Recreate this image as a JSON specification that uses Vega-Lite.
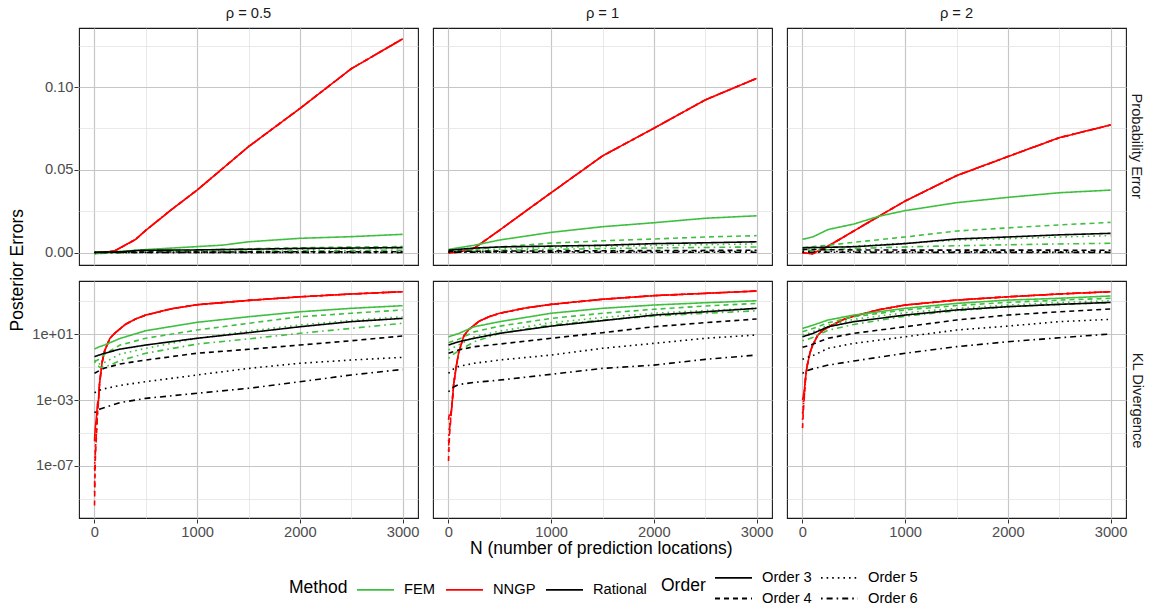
{
  "$schema": "https://vega.github.io/schema/vega-lite/v6.json",
  "background": "white",
  "padding": {"left": 9, "top": 6, "right": 6, "bottom": 2},
  "title": {"text": "Posterior Errors", "orient": "left", "anchor": "middle", "offset": 5, "dx": 36, "fontSize": 17.5, "fontWeight": "normal", "color": "black"},
  "spacing": 14,
  "resolve": {"scale": {"color": "shared", "strokeDash": "shared"}},
  "datasets": {
    "prob": [
      {"r":0.5,"m":"NNGP","o":3,"n":1,"v":0},{"r":0.5,"m":"NNGP","o":3,"n":100,"v":0.0002},{"r":0.5,"m":"NNGP","o":3,"n":200,"v":0.0012},{"r":0.5,"m":"NNGP","o":3,"n":400,"v":0.008},{"r":0.5,"m":"NNGP","o":3,"n":500,"v":0.0135},{"r":0.5,"m":"NNGP","o":3,"n":750,"v":0.026},{"r":0.5,"m":"NNGP","o":3,"n":1000,"v":0.0378},{"r":0.5,"m":"NNGP","o":3,"n":1500,"v":0.064},{"r":0.5,"m":"NNGP","o":3,"n":2000,"v":0.087},{"r":0.5,"m":"NNGP","o":3,"n":2500,"v":0.111},{"r":0.5,"m":"NNGP","o":3,"n":3000,"v":0.129},
      {"r":0.5,"m":"NNGP","o":4,"n":1,"v":0},{"r":0.5,"m":"NNGP","o":4,"n":100,"v":0.0002},{"r":0.5,"m":"NNGP","o":4,"n":200,"v":0.0012},{"r":0.5,"m":"NNGP","o":4,"n":400,"v":0.008},{"r":0.5,"m":"NNGP","o":4,"n":500,"v":0.0135},{"r":0.5,"m":"NNGP","o":4,"n":750,"v":0.026},{"r":0.5,"m":"NNGP","o":4,"n":1000,"v":0.0378},{"r":0.5,"m":"NNGP","o":4,"n":1500,"v":0.064},{"r":0.5,"m":"NNGP","o":4,"n":2000,"v":0.087},{"r":0.5,"m":"NNGP","o":4,"n":2500,"v":0.111},{"r":0.5,"m":"NNGP","o":4,"n":3000,"v":0.129},
      {"r":0.5,"m":"NNGP","o":5,"n":1,"v":0},{"r":0.5,"m":"NNGP","o":5,"n":100,"v":0.0002},{"r":0.5,"m":"NNGP","o":5,"n":200,"v":0.0012},{"r":0.5,"m":"NNGP","o":5,"n":400,"v":0.008},{"r":0.5,"m":"NNGP","o":5,"n":500,"v":0.0135},{"r":0.5,"m":"NNGP","o":5,"n":750,"v":0.026},{"r":0.5,"m":"NNGP","o":5,"n":1000,"v":0.0378},{"r":0.5,"m":"NNGP","o":5,"n":1500,"v":0.064},{"r":0.5,"m":"NNGP","o":5,"n":2000,"v":0.087},{"r":0.5,"m":"NNGP","o":5,"n":2500,"v":0.111},{"r":0.5,"m":"NNGP","o":5,"n":3000,"v":0.129},
      {"r":0.5,"m":"NNGP","o":6,"n":1,"v":0},{"r":0.5,"m":"NNGP","o":6,"n":100,"v":0.0002},{"r":0.5,"m":"NNGP","o":6,"n":200,"v":0.0012},{"r":0.5,"m":"NNGP","o":6,"n":400,"v":0.008},{"r":0.5,"m":"NNGP","o":6,"n":500,"v":0.0135},{"r":0.5,"m":"NNGP","o":6,"n":750,"v":0.026},{"r":0.5,"m":"NNGP","o":6,"n":1000,"v":0.0378},{"r":0.5,"m":"NNGP","o":6,"n":1500,"v":0.064},{"r":0.5,"m":"NNGP","o":6,"n":2000,"v":0.087},{"r":0.5,"m":"NNGP","o":6,"n":2500,"v":0.111},{"r":0.5,"m":"NNGP","o":6,"n":3000,"v":0.129},
      {"r":0.5,"m":"FEM","o":3,"n":1,"v":-0.0006},{"r":0.5,"m":"FEM","o":3,"n":250,"v":0.0008},{"r":0.5,"m":"FEM","o":3,"n":500,"v":0.0019},{"r":0.5,"m":"FEM","o":3,"n":1000,"v":0.0037},{"r":0.5,"m":"FEM","o":3,"n":1250,"v":0.0046},{"r":0.5,"m":"FEM","o":3,"n":1500,"v":0.0066},{"r":0.5,"m":"FEM","o":3,"n":2000,"v":0.0087},{"r":0.5,"m":"FEM","o":3,"n":2500,"v":0.0097},{"r":0.5,"m":"FEM","o":3,"n":3000,"v":0.0111},
      {"r":0.5,"m":"FEM","o":4,"n":1,"v":-0.0004},{"r":0.5,"m":"FEM","o":4,"n":250,"v":0.0004},{"r":0.5,"m":"FEM","o":4,"n":500,"v":0.001},{"r":0.5,"m":"FEM","o":4,"n":1000,"v":0.0017},{"r":0.5,"m":"FEM","o":4,"n":1500,"v":0.0024},{"r":0.5,"m":"FEM","o":4,"n":2000,"v":0.003},{"r":0.5,"m":"FEM","o":4,"n":2500,"v":0.0034},{"r":0.5,"m":"FEM","o":4,"n":3000,"v":0.0037},
      {"r":0.5,"m":"FEM","o":5,"n":1,"v":-0.0005},{"r":0.5,"m":"FEM","o":5,"n":250,"v":0.0002},{"r":0.5,"m":"FEM","o":5,"n":500,"v":0.0007},{"r":0.5,"m":"FEM","o":5,"n":1000,"v":0.0012},{"r":0.5,"m":"FEM","o":5,"n":1500,"v":0.0017},{"r":0.5,"m":"FEM","o":5,"n":2000,"v":0.0021},{"r":0.5,"m":"FEM","o":5,"n":2500,"v":0.0024},{"r":0.5,"m":"FEM","o":5,"n":3000,"v":0.0026},
      {"r":0.5,"m":"FEM","o":6,"n":1,"v":-0.0005},{"r":0.5,"m":"FEM","o":6,"n":250,"v":0},{"r":0.5,"m":"FEM","o":6,"n":500,"v":0.0003},{"r":0.5,"m":"FEM","o":6,"n":1000,"v":0.0006},{"r":0.5,"m":"FEM","o":6,"n":1500,"v":0.0009},{"r":0.5,"m":"FEM","o":6,"n":2000,"v":0.0011},{"r":0.5,"m":"FEM","o":6,"n":2500,"v":0.0013},{"r":0.5,"m":"FEM","o":6,"n":3000,"v":0.0015},
      {"r":0.5,"m":"Rational","o":3,"n":1,"v":0.0003},{"r":0.5,"m":"Rational","o":3,"n":250,"v":0.0005},{"r":0.5,"m":"Rational","o":3,"n":400,"v":0.0013},{"r":0.5,"m":"Rational","o":3,"n":500,"v":0.0015},{"r":0.5,"m":"Rational","o":3,"n":1000,"v":0.0017},{"r":0.5,"m":"Rational","o":3,"n":1500,"v":0.0021},{"r":0.5,"m":"Rational","o":3,"n":2000,"v":0.0026},{"r":0.5,"m":"Rational","o":3,"n":2500,"v":0.0028},{"r":0.5,"m":"Rational","o":3,"n":3000,"v":0.0031},
      {"r":0.5,"m":"Rational","o":4,"n":1,"v":0.0002},{"r":0.5,"m":"Rational","o":4,"n":500,"v":0.0004},{"r":0.5,"m":"Rational","o":4,"n":1000,"v":0.0004},{"r":0.5,"m":"Rational","o":4,"n":2000,"v":0.0006},{"r":0.5,"m":"Rational","o":4,"n":3000,"v":0.0006},
      {"r":0.5,"m":"Rational","o":5,"n":1,"v":0.0001},{"r":0.5,"m":"Rational","o":5,"n":1000,"v":0.0002},{"r":0.5,"m":"Rational","o":5,"n":2000,"v":0.0002},{"r":0.5,"m":"Rational","o":5,"n":3000,"v":0.0002},
      {"r":0.5,"m":"Rational","o":6,"n":1,"v":0.0001},{"r":0.5,"m":"Rational","o":6,"n":1000,"v":0.0001},{"r":0.5,"m":"Rational","o":6,"n":2000,"v":0.0001},{"r":0.5,"m":"Rational","o":6,"n":3000,"v":0.0001},

      {"r":1,"m":"NNGP","o":3,"n":1,"v":0},{"r":1,"m":"NNGP","o":3,"n":100,"v":0.0003},{"r":1,"m":"NNGP","o":3,"n":250,"v":0.0027},{"r":1,"m":"NNGP","o":3,"n":500,"v":0.0137},{"r":1,"m":"NNGP","o":3,"n":750,"v":0.025},{"r":1,"m":"NNGP","o":3,"n":1000,"v":0.0362},{"r":1,"m":"NNGP","o":3,"n":1500,"v":0.0584},{"r":1,"m":"NNGP","o":3,"n":2000,"v":0.0751},{"r":1,"m":"NNGP","o":3,"n":2500,"v":0.0922},{"r":1,"m":"NNGP","o":3,"n":3000,"v":0.1052},
      {"r":1,"m":"NNGP","o":4,"n":1,"v":0},{"r":1,"m":"NNGP","o":4,"n":100,"v":0.0003},{"r":1,"m":"NNGP","o":4,"n":250,"v":0.0027},{"r":1,"m":"NNGP","o":4,"n":500,"v":0.0137},{"r":1,"m":"NNGP","o":4,"n":750,"v":0.025},{"r":1,"m":"NNGP","o":4,"n":1000,"v":0.0362},{"r":1,"m":"NNGP","o":4,"n":1500,"v":0.0584},{"r":1,"m":"NNGP","o":4,"n":2000,"v":0.0751},{"r":1,"m":"NNGP","o":4,"n":2500,"v":0.0922},{"r":1,"m":"NNGP","o":4,"n":3000,"v":0.1052},
      {"r":1,"m":"NNGP","o":5,"n":1,"v":0},{"r":1,"m":"NNGP","o":5,"n":100,"v":0.0003},{"r":1,"m":"NNGP","o":5,"n":250,"v":0.0027},{"r":1,"m":"NNGP","o":5,"n":500,"v":0.0137},{"r":1,"m":"NNGP","o":5,"n":750,"v":0.025},{"r":1,"m":"NNGP","o":5,"n":1000,"v":0.0362},{"r":1,"m":"NNGP","o":5,"n":1500,"v":0.0584},{"r":1,"m":"NNGP","o":5,"n":2000,"v":0.0751},{"r":1,"m":"NNGP","o":5,"n":2500,"v":0.0922},{"r":1,"m":"NNGP","o":5,"n":3000,"v":0.1052},
      {"r":1,"m":"NNGP","o":6,"n":1,"v":0},{"r":1,"m":"NNGP","o":6,"n":100,"v":0.0003},{"r":1,"m":"NNGP","o":6,"n":250,"v":0.0027},{"r":1,"m":"NNGP","o":6,"n":500,"v":0.0137},{"r":1,"m":"NNGP","o":6,"n":750,"v":0.025},{"r":1,"m":"NNGP","o":6,"n":1000,"v":0.0362},{"r":1,"m":"NNGP","o":6,"n":1500,"v":0.0584},{"r":1,"m":"NNGP","o":6,"n":2000,"v":0.0751},{"r":1,"m":"NNGP","o":6,"n":2500,"v":0.0922},{"r":1,"m":"NNGP","o":6,"n":3000,"v":0.1052},
      {"r":1,"m":"FEM","o":3,"n":1,"v":0.002},{"r":1,"m":"FEM","o":3,"n":250,"v":0.0045},{"r":1,"m":"FEM","o":3,"n":500,"v":0.0077},{"r":1,"m":"FEM","o":3,"n":1000,"v":0.0123},{"r":1,"m":"FEM","o":3,"n":1500,"v":0.0157},{"r":1,"m":"FEM","o":3,"n":2000,"v":0.0181},{"r":1,"m":"FEM","o":3,"n":2500,"v":0.0208},{"r":1,"m":"FEM","o":3,"n":3000,"v":0.0223},
      {"r":1,"m":"FEM","o":4,"n":1,"v":0.0008},{"r":1,"m":"FEM","o":4,"n":250,"v":0.002},{"r":1,"m":"FEM","o":4,"n":500,"v":0.0035},{"r":1,"m":"FEM","o":4,"n":1000,"v":0.0058},{"r":1,"m":"FEM","o":4,"n":1500,"v":0.0072},{"r":1,"m":"FEM","o":4,"n":2000,"v":0.0083},{"r":1,"m":"FEM","o":4,"n":2500,"v":0.0095},{"r":1,"m":"FEM","o":4,"n":3000,"v":0.0103},
      {"r":1,"m":"FEM","o":5,"n":1,"v":0.0005},{"r":1,"m":"FEM","o":5,"n":250,"v":0.0012},{"r":1,"m":"FEM","o":5,"n":500,"v":0.0022},{"r":1,"m":"FEM","o":5,"n":1000,"v":0.0031},{"r":1,"m":"FEM","o":5,"n":1500,"v":0.0038},{"r":1,"m":"FEM","o":5,"n":2000,"v":0.0044},{"r":1,"m":"FEM","o":5,"n":2500,"v":0.0049},{"r":1,"m":"FEM","o":5,"n":3000,"v":0.0053},
      {"r":1,"m":"FEM","o":6,"n":1,"v":0.0003},{"r":1,"m":"FEM","o":6,"n":250,"v":0.0008},{"r":1,"m":"FEM","o":6,"n":500,"v":0.0014},{"r":1,"m":"FEM","o":6,"n":1000,"v":0.002},{"r":1,"m":"FEM","o":6,"n":1500,"v":0.0025},{"r":1,"m":"FEM","o":6,"n":2000,"v":0.0029},{"r":1,"m":"FEM","o":6,"n":2500,"v":0.0032},{"r":1,"m":"FEM","o":6,"n":3000,"v":0.0035},
      {"r":1,"m":"Rational","o":3,"n":1,"v":0.0015},{"r":1,"m":"Rational","o":3,"n":250,"v":0.0028},{"r":1,"m":"Rational","o":3,"n":500,"v":0.0035},{"r":1,"m":"Rational","o":3,"n":1000,"v":0.004},{"r":1,"m":"Rational","o":3,"n":1500,"v":0.0045},{"r":1,"m":"Rational","o":3,"n":2000,"v":0.0055},{"r":1,"m":"Rational","o":3,"n":2500,"v":0.006},{"r":1,"m":"Rational","o":3,"n":3000,"v":0.0066},
      {"r":1,"m":"Rational","o":4,"n":1,"v":0.0008},{"r":1,"m":"Rational","o":4,"n":500,"v":0.001},{"r":1,"m":"Rational","o":4,"n":1000,"v":0.0011},{"r":1,"m":"Rational","o":4,"n":2000,"v":0.0013},{"r":1,"m":"Rational","o":4,"n":3000,"v":0.0015},
      {"r":1,"m":"Rational","o":5,"n":1,"v":0.0005},{"r":1,"m":"Rational","o":5,"n":1000,"v":0.0006},{"r":1,"m":"Rational","o":5,"n":2000,"v":0.0007},{"r":1,"m":"Rational","o":5,"n":3000,"v":0.0008},
      {"r":1,"m":"Rational","o":6,"n":1,"v":0.0003},{"r":1,"m":"Rational","o":6,"n":1000,"v":0.0003},{"r":1,"m":"Rational","o":6,"n":2000,"v":0.0003},{"r":1,"m":"Rational","o":6,"n":3000,"v":0.0003},

      {"r":2,"m":"NNGP","o":3,"n":1,"v":0},{"r":2,"m":"NNGP","o":3,"n":100,"v":-0.0006},{"r":2,"m":"NNGP","o":3,"n":250,"v":0.004},{"r":2,"m":"NNGP","o":3,"n":500,"v":0.0131},{"r":2,"m":"NNGP","o":3,"n":750,"v":0.0222},{"r":2,"m":"NNGP","o":3,"n":1000,"v":0.0312},{"r":2,"m":"NNGP","o":3,"n":1500,"v":0.0465},{"r":2,"m":"NNGP","o":3,"n":2000,"v":0.058},{"r":2,"m":"NNGP","o":3,"n":2500,"v":0.0694},{"r":2,"m":"NNGP","o":3,"n":3000,"v":0.0771},
      {"r":2,"m":"NNGP","o":4,"n":1,"v":0},{"r":2,"m":"NNGP","o":4,"n":100,"v":-0.0006},{"r":2,"m":"NNGP","o":4,"n":250,"v":0.004},{"r":2,"m":"NNGP","o":4,"n":500,"v":0.0131},{"r":2,"m":"NNGP","o":4,"n":750,"v":0.0222},{"r":2,"m":"NNGP","o":4,"n":1000,"v":0.0312},{"r":2,"m":"NNGP","o":4,"n":1500,"v":0.0465},{"r":2,"m":"NNGP","o":4,"n":2000,"v":0.058},{"r":2,"m":"NNGP","o":4,"n":2500,"v":0.0694},{"r":2,"m":"NNGP","o":4,"n":3000,"v":0.0771},
      {"r":2,"m":"NNGP","o":5,"n":1,"v":0},{"r":2,"m":"NNGP","o":5,"n":100,"v":-0.0006},{"r":2,"m":"NNGP","o":5,"n":250,"v":0.004},{"r":2,"m":"NNGP","o":5,"n":500,"v":0.0131},{"r":2,"m":"NNGP","o":5,"n":750,"v":0.0222},{"r":2,"m":"NNGP","o":5,"n":1000,"v":0.0312},{"r":2,"m":"NNGP","o":5,"n":1500,"v":0.0465},{"r":2,"m":"NNGP","o":5,"n":2000,"v":0.058},{"r":2,"m":"NNGP","o":5,"n":2500,"v":0.0694},{"r":2,"m":"NNGP","o":5,"n":3000,"v":0.0771},
      {"r":2,"m":"NNGP","o":6,"n":1,"v":0},{"r":2,"m":"NNGP","o":6,"n":100,"v":-0.0006},{"r":2,"m":"NNGP","o":6,"n":250,"v":0.004},{"r":2,"m":"NNGP","o":6,"n":500,"v":0.0131},{"r":2,"m":"NNGP","o":6,"n":750,"v":0.0222},{"r":2,"m":"NNGP","o":6,"n":1000,"v":0.0312},{"r":2,"m":"NNGP","o":6,"n":1500,"v":0.0465},{"r":2,"m":"NNGP","o":6,"n":2000,"v":0.058},{"r":2,"m":"NNGP","o":6,"n":2500,"v":0.0694},{"r":2,"m":"NNGP","o":6,"n":3000,"v":0.0771},
      {"r":2,"m":"FEM","o":3,"n":1,"v":0.0081},{"r":2,"m":"FEM","o":3,"n":100,"v":0.0095},{"r":2,"m":"FEM","o":3,"n":250,"v":0.014},{"r":2,"m":"FEM","o":3,"n":500,"v":0.0173},{"r":2,"m":"FEM","o":3,"n":750,"v":0.0221},{"r":2,"m":"FEM","o":3,"n":1000,"v":0.0254},{"r":2,"m":"FEM","o":3,"n":1500,"v":0.0302},{"r":2,"m":"FEM","o":3,"n":2000,"v":0.0334},{"r":2,"m":"FEM","o":3,"n":2500,"v":0.0362},{"r":2,"m":"FEM","o":3,"n":3000,"v":0.0378},
      {"r":2,"m":"FEM","o":4,"n":1,"v":0.0032},{"r":2,"m":"FEM","o":4,"n":250,"v":0.0045},{"r":2,"m":"FEM","o":4,"n":500,"v":0.0063},{"r":2,"m":"FEM","o":4,"n":1000,"v":0.0095},{"r":2,"m":"FEM","o":4,"n":1500,"v":0.0131},{"r":2,"m":"FEM","o":4,"n":2000,"v":0.015},{"r":2,"m":"FEM","o":4,"n":2500,"v":0.0168},{"r":2,"m":"FEM","o":4,"n":3000,"v":0.0183},
      {"r":2,"m":"FEM","o":5,"n":1,"v":0.002},{"r":2,"m":"FEM","o":5,"n":250,"v":0.0028},{"r":2,"m":"FEM","o":5,"n":500,"v":0.004},{"r":2,"m":"FEM","o":5,"n":1000,"v":0.0058},{"r":2,"m":"FEM","o":5,"n":1500,"v":0.0075},{"r":2,"m":"FEM","o":5,"n":2000,"v":0.0085},{"r":2,"m":"FEM","o":5,"n":2500,"v":0.0095},{"r":2,"m":"FEM","o":5,"n":3000,"v":0.0103},
      {"r":2,"m":"FEM","o":6,"n":1,"v":0.0012},{"r":2,"m":"FEM","o":6,"n":250,"v":0.0018},{"r":2,"m":"FEM","o":6,"n":500,"v":0.0025},{"r":2,"m":"FEM","o":6,"n":1000,"v":0.0035},{"r":2,"m":"FEM","o":6,"n":1500,"v":0.0042},{"r":2,"m":"FEM","o":6,"n":2000,"v":0.0048},{"r":2,"m":"FEM","o":6,"n":2500,"v":0.0053},{"r":2,"m":"FEM","o":6,"n":3000,"v":0.0057},
      {"r":2,"m":"Rational","o":3,"n":1,"v":0.003},{"r":2,"m":"Rational","o":3,"n":250,"v":0.0033},{"r":2,"m":"Rational","o":3,"n":500,"v":0.0036},{"r":2,"m":"Rational","o":3,"n":1000,"v":0.0055},{"r":2,"m":"Rational","o":3,"n":1500,"v":0.0083},{"r":2,"m":"Rational","o":3,"n":2000,"v":0.0095},{"r":2,"m":"Rational","o":3,"n":2500,"v":0.0108},{"r":2,"m":"Rational","o":3,"n":3000,"v":0.0117},
      {"r":2,"m":"Rational","o":4,"n":1,"v":0.002},{"r":2,"m":"Rational","o":4,"n":500,"v":0.0017},{"r":2,"m":"Rational","o":4,"n":1000,"v":0.0016},{"r":2,"m":"Rational","o":4,"n":2000,"v":0.0016},{"r":2,"m":"Rational","o":4,"n":3000,"v":0.0015},
      {"r":2,"m":"Rational","o":5,"n":1,"v":0.0008},{"r":2,"m":"Rational","o":5,"n":1000,"v":0.0006},{"r":2,"m":"Rational","o":5,"n":2000,"v":0.0005},{"r":2,"m":"Rational","o":5,"n":3000,"v":0.0005},
      {"r":2,"m":"Rational","o":6,"n":1,"v":0.0003},{"r":2,"m":"Rational","o":6,"n":1000,"v":0.0002},{"r":2,"m":"Rational","o":6,"n":2000,"v":0.0002},{"r":2,"m":"Rational","o":6,"n":3000,"v":0.0002}
    ],
    "kl": [
      {"r":0.5,"m":"NNGP","o":3,"n":1,"v":3.16e-6},{"r":0.5,"m":"NNGP","o":3,"n":5,"v":1e-5},{"r":0.5,"m":"NNGP","o":3,"n":10,"v":2.51e-5},{"r":0.5,"m":"NNGP","o":3,"n":20,"v":1e-4},{"r":0.5,"m":"NNGP","o":3,"n":30,"v":6.31e-4},{"r":0.5,"m":"NNGP","o":3,"n":40,"v":1e-3},{"r":0.5,"m":"NNGP","o":3,"n":50,"v":0.01},{"r":0.5,"m":"NNGP","o":3,"n":75,"v":0.2},{"r":0.5,"m":"NNGP","o":3,"n":100,"v":1},{"r":0.5,"m":"NNGP","o":3,"n":150,"v":5.62},{"r":0.5,"m":"NNGP","o":3,"n":200,"v":12},{"r":0.5,"m":"NNGP","o":3,"n":300,"v":39.8},{"r":0.5,"m":"NNGP","o":3,"n":400,"v":85},{"r":0.5,"m":"NNGP","o":3,"n":500,"v":148},{"r":0.5,"m":"NNGP","o":3,"n":750,"v":355},{"r":0.5,"m":"NNGP","o":3,"n":1000,"v":631},{"r":0.5,"m":"NNGP","o":3,"n":1500,"v":1150},{"r":0.5,"m":"NNGP","o":3,"n":2000,"v":1905},{"r":0.5,"m":"NNGP","o":3,"n":2500,"v":2818},{"r":0.5,"m":"NNGP","o":3,"n":3000,"v":3890},
      {"r":0.5,"m":"NNGP","o":4,"n":1,"v":3.98e-10},{"r":0.5,"m":"NNGP","o":4,"n":5,"v":1.58e-8},{"r":0.5,"m":"NNGP","o":4,"n":10,"v":3.98e-7},{"r":0.5,"m":"NNGP","o":4,"n":20,"v":6.31e-6},{"r":0.5,"m":"NNGP","o":4,"n":30,"v":1.58e-4},{"r":0.5,"m":"NNGP","o":4,"n":40,"v":1e-3},{"r":0.5,"m":"NNGP","o":4,"n":50,"v":0.01},{"r":0.5,"m":"NNGP","o":4,"n":75,"v":0.2},{"r":0.5,"m":"NNGP","o":4,"n":100,"v":1},{"r":0.5,"m":"NNGP","o":4,"n":150,"v":5.62},{"r":0.5,"m":"NNGP","o":4,"n":200,"v":12},{"r":0.5,"m":"NNGP","o":4,"n":300,"v":39.8},{"r":0.5,"m":"NNGP","o":4,"n":400,"v":85},{"r":0.5,"m":"NNGP","o":4,"n":500,"v":148},{"r":0.5,"m":"NNGP","o":4,"n":750,"v":355},{"r":0.5,"m":"NNGP","o":4,"n":1000,"v":631},{"r":0.5,"m":"NNGP","o":4,"n":1500,"v":1150},{"r":0.5,"m":"NNGP","o":4,"n":2000,"v":1905},{"r":0.5,"m":"NNGP","o":4,"n":2500,"v":2818},{"r":0.5,"m":"NNGP","o":4,"n":3000,"v":3890},
      {"r":0.5,"m":"NNGP","o":5,"n":1,"v":6.31e-8},{"r":0.5,"m":"NNGP","o":5,"n":5,"v":2.51e-7},{"r":0.5,"m":"NNGP","o":5,"n":10,"v":1.26e-6},{"r":0.5,"m":"NNGP","o":5,"n":20,"v":2.51e-5},{"r":0.5,"m":"NNGP","o":5,"n":30,"v":3.16e-4},{"r":0.5,"m":"NNGP","o":5,"n":40,"v":1e-3},{"r":0.5,"m":"NNGP","o":5,"n":50,"v":0.01},{"r":0.5,"m":"NNGP","o":5,"n":75,"v":0.2},{"r":0.5,"m":"NNGP","o":5,"n":100,"v":1},{"r":0.5,"m":"NNGP","o":5,"n":150,"v":5.62},{"r":0.5,"m":"NNGP","o":5,"n":200,"v":12},{"r":0.5,"m":"NNGP","o":5,"n":300,"v":39.8},{"r":0.5,"m":"NNGP","o":5,"n":400,"v":85},{"r":0.5,"m":"NNGP","o":5,"n":500,"v":148},{"r":0.5,"m":"NNGP","o":5,"n":750,"v":355},{"r":0.5,"m":"NNGP","o":5,"n":1000,"v":631},{"r":0.5,"m":"NNGP","o":5,"n":1500,"v":1150},{"r":0.5,"m":"NNGP","o":5,"n":2000,"v":1905},{"r":0.5,"m":"NNGP","o":5,"n":2500,"v":2818},{"r":0.5,"m":"NNGP","o":5,"n":3000,"v":3890},
      {"r":0.5,"m":"NNGP","o":6,"n":1,"v":2.51e-9},{"r":0.5,"m":"NNGP","o":6,"n":5,"v":1e-7},{"r":0.5,"m":"NNGP","o":6,"n":10,"v":1e-6},{"r":0.5,"m":"NNGP","o":6,"n":20,"v":1.26e-5},{"r":0.5,"m":"NNGP","o":6,"n":30,"v":1.26e-4},{"r":0.5,"m":"NNGP","o":6,"n":40,"v":1e-3},{"r":0.5,"m":"NNGP","o":6,"n":50,"v":0.01},{"r":0.5,"m":"NNGP","o":6,"n":75,"v":0.2},{"r":0.5,"m":"NNGP","o":6,"n":100,"v":1},{"r":0.5,"m":"NNGP","o":6,"n":150,"v":5.62},{"r":0.5,"m":"NNGP","o":6,"n":200,"v":12},{"r":0.5,"m":"NNGP","o":6,"n":300,"v":39.8},{"r":0.5,"m":"NNGP","o":6,"n":400,"v":85},{"r":0.5,"m":"NNGP","o":6,"n":500,"v":148},{"r":0.5,"m":"NNGP","o":6,"n":750,"v":355},{"r":0.5,"m":"NNGP","o":6,"n":1000,"v":631},{"r":0.5,"m":"NNGP","o":6,"n":1500,"v":1150},{"r":0.5,"m":"NNGP","o":6,"n":2000,"v":1905},{"r":0.5,"m":"NNGP","o":6,"n":2500,"v":2818},{"r":0.5,"m":"NNGP","o":6,"n":3000,"v":3890},
      {"r":0.5,"m":"FEM","o":3,"n":1,"v":1.29},{"r":0.5,"m":"FEM","o":3,"n":50,"v":1.78},{"r":0.5,"m":"FEM","o":3,"n":100,"v":2.24},{"r":0.5,"m":"FEM","o":3,"n":250,"v":5.62},{"r":0.5,"m":"FEM","o":3,"n":500,"v":16.6},{"r":0.5,"m":"FEM","o":3,"n":1000,"v":53.7},{"r":0.5,"m":"FEM","o":3,"n":1500,"v":117},{"r":0.5,"m":"FEM","o":3,"n":2000,"v":234},{"r":0.5,"m":"FEM","o":3,"n":2500,"v":380},{"r":0.5,"m":"FEM","o":3,"n":3000,"v":550},
      {"r":0.5,"m":"FEM","o":4,"n":1,"v":0.219},{"r":0.5,"m":"FEM","o":4,"n":50,"v":0.316},{"r":0.5,"m":"FEM","o":4,"n":100,"v":0.631},{"r":0.5,"m":"FEM","o":4,"n":250,"v":2.24},{"r":0.5,"m":"FEM","o":4,"n":500,"v":5.75},{"r":0.5,"m":"FEM","o":4,"n":1000,"v":18.2},{"r":0.5,"m":"FEM","o":4,"n":1500,"v":46.8},{"r":0.5,"m":"FEM","o":4,"n":2000,"v":117},{"r":0.5,"m":"FEM","o":4,"n":2500,"v":191},{"r":0.5,"m":"FEM","o":4,"n":3000,"v":302},
      {"r":0.5,"m":"FEM","o":5,"n":1,"v":0.275},{"r":0.5,"m":"FEM","o":5,"n":50,"v":0.158},{"r":0.5,"m":"FEM","o":5,"n":100,"v":0.2},{"r":0.5,"m":"FEM","o":5,"n":250,"v":0.631},{"r":0.5,"m":"FEM","o":5,"n":500,"v":1.41},{"r":0.5,"m":"FEM","o":5,"n":1000,"v":5.75},{"r":0.5,"m":"FEM","o":5,"n":1500,"v":15.8},{"r":0.5,"m":"FEM","o":5,"n":2000,"v":37.2},{"r":0.5,"m":"FEM","o":5,"n":2500,"v":70.8},{"r":0.5,"m":"FEM","o":5,"n":3000,"v":117},
      {"r":0.5,"m":"FEM","o":6,"n":1,"v":0.219},{"r":0.5,"m":"FEM","o":6,"n":50,"v":0.1},{"r":0.5,"m":"FEM","o":6,"n":100,"v":0.1},{"r":0.5,"m":"FEM","o":6,"n":250,"v":0.251},{"r":0.5,"m":"FEM","o":6,"n":500,"v":0.708},{"r":0.5,"m":"FEM","o":6,"n":1000,"v":2.57},{"r":0.5,"m":"FEM","o":6,"n":1500,"v":5.25},{"r":0.5,"m":"FEM","o":6,"n":2000,"v":11.5},{"r":0.5,"m":"FEM","o":6,"n":2500,"v":22.9},{"r":0.5,"m":"FEM","o":6,"n":3000,"v":46.8},
      {"r":0.5,"m":"Rational","o":3,"n":1,"v":0.437},{"r":0.5,"m":"Rational","o":3,"n":50,"v":0.562},{"r":0.5,"m":"Rational","o":3,"n":100,"v":0.708},{"r":0.5,"m":"Rational","o":3,"n":250,"v":1.26},{"r":0.5,"m":"Rational","o":3,"n":500,"v":2.24},{"r":0.5,"m":"Rational","o":3,"n":1000,"v":5.75},{"r":0.5,"m":"Rational","o":3,"n":1500,"v":12.6},{"r":0.5,"m":"Rational","o":3,"n":2000,"v":28.8},{"r":0.5,"m":"Rational","o":3,"n":2500,"v":58.9},{"r":0.5,"m":"Rational","o":3,"n":3000,"v":93.3},
      {"r":0.5,"m":"Rational","o":4,"n":1,"v":0.0427},{"r":0.5,"m":"Rational","o":4,"n":50,"v":0.063},{"r":0.5,"m":"Rational","o":4,"n":100,"v":0.089},{"r":0.5,"m":"Rational","o":4,"n":250,"v":0.158},{"r":0.5,"m":"Rational","o":4,"n":500,"v":0.275},{"r":0.5,"m":"Rational","o":4,"n":1000,"v":0.708},{"r":0.5,"m":"Rational","o":4,"n":1500,"v":1.23},{"r":0.5,"m":"Rational","o":4,"n":2000,"v":2.24},{"r":0.5,"m":"Rational","o":4,"n":2500,"v":4.07},{"r":0.5,"m":"Rational","o":4,"n":3000,"v":7.94},
      {"r":0.5,"m":"Rational","o":5,"n":1,"v":0.00282},{"r":0.5,"m":"Rational","o":5,"n":50,"v":0.00398},{"r":0.5,"m":"Rational","o":5,"n":100,"v":0.005},{"r":0.5,"m":"Rational","o":5,"n":250,"v":0.00794},{"r":0.5,"m":"Rational","o":5,"n":500,"v":0.0132},{"r":0.5,"m":"Rational","o":5,"n":1000,"v":0.0339},{"r":0.5,"m":"Rational","o":5,"n":1500,"v":0.0851},{"r":0.5,"m":"Rational","o":5,"n":2000,"v":0.174},{"r":0.5,"m":"Rational","o":5,"n":2500,"v":0.275},{"r":0.5,"m":"Rational","o":5,"n":3000,"v":0.398},
      {"r":0.5,"m":"Rational","o":6,"n":1,"v":0.000174},{"r":0.5,"m":"Rational","o":6,"n":50,"v":0.000282},{"r":0.5,"m":"Rational","o":6,"n":100,"v":0.000355},{"r":0.5,"m":"Rational","o":6,"n":250,"v":0.000708},{"r":0.5,"m":"Rational","o":6,"n":500,"v":0.00129},{"r":0.5,"m":"Rational","o":6,"n":1000,"v":0.00263},{"r":0.5,"m":"Rational","o":6,"n":1500,"v":0.00525},{"r":0.5,"m":"Rational","o":6,"n":2000,"v":0.0132},{"r":0.5,"m":"Rational","o":6,"n":2500,"v":0.0339},{"r":0.5,"m":"Rational","o":6,"n":3000,"v":0.0741},

      {"r":1,"m":"NNGP","o":3,"n":1,"v":6.31e-5},{"r":1,"m":"NNGP","o":3,"n":5,"v":1e-4},{"r":1,"m":"NNGP","o":3,"n":10,"v":1.26e-4},{"r":1,"m":"NNGP","o":3,"n":20,"v":1.26e-4},{"r":1,"m":"NNGP","o":3,"n":30,"v":2.51e-4},{"r":1,"m":"NNGP","o":3,"n":40,"v":1.26e-3},{"r":1,"m":"NNGP","o":3,"n":50,"v":7.94e-3},{"r":1,"m":"NNGP","o":3,"n":75,"v":0.1},{"r":1,"m":"NNGP","o":3,"n":100,"v":0.794},{"r":1,"m":"NNGP","o":3,"n":150,"v":7.94},{"r":1,"m":"NNGP","o":3,"n":200,"v":20},{"r":1,"m":"NNGP","o":3,"n":300,"v":63.1},{"r":1,"m":"NNGP","o":3,"n":400,"v":120},{"r":1,"m":"NNGP","o":3,"n":500,"v":191},{"r":1,"m":"NNGP","o":3,"n":750,"v":398},{"r":1,"m":"NNGP","o":3,"n":1000,"v":661},{"r":1,"m":"NNGP","o":3,"n":1500,"v":1349},{"r":1,"m":"NNGP","o":3,"n":2000,"v":2239},{"r":1,"m":"NNGP","o":3,"n":2500,"v":3090},{"r":1,"m":"NNGP","o":3,"n":3000,"v":4266},
      {"r":1,"m":"NNGP","o":4,"n":1,"v":2e-7},{"r":1,"m":"NNGP","o":4,"n":5,"v":1e-6},{"r":1,"m":"NNGP","o":4,"n":10,"v":6.31e-6},{"r":1,"m":"NNGP","o":4,"n":20,"v":3.98e-5},{"r":1,"m":"NNGP","o":4,"n":30,"v":2.51e-4},{"r":1,"m":"NNGP","o":4,"n":40,"v":1.26e-3},{"r":1,"m":"NNGP","o":4,"n":50,"v":7.94e-3},{"r":1,"m":"NNGP","o":4,"n":75,"v":0.1},{"r":1,"m":"NNGP","o":4,"n":100,"v":0.794},{"r":1,"m":"NNGP","o":4,"n":150,"v":7.94},{"r":1,"m":"NNGP","o":4,"n":200,"v":20},{"r":1,"m":"NNGP","o":4,"n":300,"v":63.1},{"r":1,"m":"NNGP","o":4,"n":400,"v":120},{"r":1,"m":"NNGP","o":4,"n":500,"v":191},{"r":1,"m":"NNGP","o":4,"n":750,"v":398},{"r":1,"m":"NNGP","o":4,"n":1000,"v":661},{"r":1,"m":"NNGP","o":4,"n":1500,"v":1349},{"r":1,"m":"NNGP","o":4,"n":2000,"v":2239},{"r":1,"m":"NNGP","o":4,"n":2500,"v":3090},{"r":1,"m":"NNGP","o":4,"n":3000,"v":4266},
      {"r":1,"m":"NNGP","o":5,"n":1,"v":3.16e-6},{"r":1,"m":"NNGP","o":5,"n":5,"v":7.94e-6},{"r":1,"m":"NNGP","o":5,"n":10,"v":2.51e-5},{"r":1,"m":"NNGP","o":5,"n":20,"v":7.94e-5},{"r":1,"m":"NNGP","o":5,"n":30,"v":2.51e-4},{"r":1,"m":"NNGP","o":5,"n":40,"v":1.26e-3},{"r":1,"m":"NNGP","o":5,"n":50,"v":7.94e-3},{"r":1,"m":"NNGP","o":5,"n":75,"v":0.1},{"r":1,"m":"NNGP","o":5,"n":100,"v":0.794},{"r":1,"m":"NNGP","o":5,"n":150,"v":7.94},{"r":1,"m":"NNGP","o":5,"n":200,"v":20},{"r":1,"m":"NNGP","o":5,"n":300,"v":63.1},{"r":1,"m":"NNGP","o":5,"n":400,"v":120},{"r":1,"m":"NNGP","o":5,"n":500,"v":191},{"r":1,"m":"NNGP","o":5,"n":750,"v":398},{"r":1,"m":"NNGP","o":5,"n":1000,"v":661},{"r":1,"m":"NNGP","o":5,"n":1500,"v":1349},{"r":1,"m":"NNGP","o":5,"n":2000,"v":2239},{"r":1,"m":"NNGP","o":5,"n":2500,"v":3090},{"r":1,"m":"NNGP","o":5,"n":3000,"v":4266},
      {"r":1,"m":"NNGP","o":6,"n":1,"v":7.94e-7},{"r":1,"m":"NNGP","o":6,"n":5,"v":3.98e-6},{"r":1,"m":"NNGP","o":6,"n":10,"v":1.58e-5},{"r":1,"m":"NNGP","o":6,"n":20,"v":5.01e-5},{"r":1,"m":"NNGP","o":6,"n":30,"v":2.51e-4},{"r":1,"m":"NNGP","o":6,"n":40,"v":1.26e-3},{"r":1,"m":"NNGP","o":6,"n":50,"v":7.94e-3},{"r":1,"m":"NNGP","o":6,"n":75,"v":0.1},{"r":1,"m":"NNGP","o":6,"n":100,"v":0.794},{"r":1,"m":"NNGP","o":6,"n":150,"v":7.94},{"r":1,"m":"NNGP","o":6,"n":200,"v":20},{"r":1,"m":"NNGP","o":6,"n":300,"v":63.1},{"r":1,"m":"NNGP","o":6,"n":400,"v":120},{"r":1,"m":"NNGP","o":6,"n":500,"v":191},{"r":1,"m":"NNGP","o":6,"n":750,"v":398},{"r":1,"m":"NNGP","o":6,"n":1000,"v":661},{"r":1,"m":"NNGP","o":6,"n":1500,"v":1349},{"r":1,"m":"NNGP","o":6,"n":2000,"v":2239},{"r":1,"m":"NNGP","o":6,"n":2500,"v":3090},{"r":1,"m":"NNGP","o":6,"n":3000,"v":4266},
      {"r":1,"m":"FEM","o":3,"n":1,"v":7.08},{"r":1,"m":"FEM","o":3,"n":50,"v":8.91},{"r":1,"m":"FEM","o":3,"n":100,"v":11.2},{"r":1,"m":"FEM","o":3,"n":250,"v":28.8},{"r":1,"m":"FEM","o":3,"n":500,"v":58.9},{"r":1,"m":"FEM","o":3,"n":1000,"v":191},{"r":1,"m":"FEM","o":3,"n":1500,"v":380},{"r":1,"m":"FEM","o":3,"n":2000,"v":603},{"r":1,"m":"FEM","o":3,"n":2500,"v":832},{"r":1,"m":"FEM","o":3,"n":3000,"v":1096},
      {"r":1,"m":"FEM","o":4,"n":1,"v":3.09},{"r":1,"m":"FEM","o":4,"n":50,"v":3.98},{"r":1,"m":"FEM","o":4,"n":100,"v":5.01},{"r":1,"m":"FEM","o":4,"n":250,"v":14.1},{"r":1,"m":"FEM","o":4,"n":500,"v":31.6},{"r":1,"m":"FEM","o":4,"n":1000,"v":93.3},{"r":1,"m":"FEM","o":4,"n":1500,"v":191},{"r":1,"m":"FEM","o":4,"n":2000,"v":331},{"r":1,"m":"FEM","o":4,"n":2500,"v":525},{"r":1,"m":"FEM","o":4,"n":3000,"v":759},
      {"r":1,"m":"FEM","o":5,"n":1,"v":1.12},{"r":1,"m":"FEM","o":5,"n":50,"v":1.58},{"r":1,"m":"FEM","o":5,"n":100,"v":2.24},{"r":1,"m":"FEM","o":5,"n":250,"v":7.08},{"r":1,"m":"FEM","o":5,"n":500,"v":15.8},{"r":1,"m":"FEM","o":5,"n":1000,"v":51.3},{"r":1,"m":"FEM","o":5,"n":1500,"v":105},{"r":1,"m":"FEM","o":5,"n":2000,"v":191},{"r":1,"m":"FEM","o":5,"n":2500,"v":282},{"r":1,"m":"FEM","o":5,"n":3000,"v":380},
      {"r":1,"m":"FEM","o":6,"n":1,"v":0.347},{"r":1,"m":"FEM","o":6,"n":50,"v":0.631},{"r":1,"m":"FEM","o":6,"n":100,"v":1},{"r":1,"m":"FEM","o":6,"n":250,"v":3.55},{"r":1,"m":"FEM","o":6,"n":500,"v":11.5},{"r":1,"m":"FEM","o":6,"n":1000,"v":37.2},{"r":1,"m":"FEM","o":6,"n":1500,"v":74.1},{"r":1,"m":"FEM","o":6,"n":2000,"v":129},{"r":1,"m":"FEM","o":6,"n":2500,"v":191},{"r":1,"m":"FEM","o":6,"n":3000,"v":269},
      {"r":1,"m":"Rational","o":3,"n":1,"v":2.24},{"r":1,"m":"Rational","o":3,"n":50,"v":2.82},{"r":1,"m":"Rational","o":3,"n":100,"v":3.55},{"r":1,"m":"Rational","o":3,"n":250,"v":5.75},{"r":1,"m":"Rational","o":3,"n":500,"v":11.5},{"r":1,"m":"Rational","o":3,"n":1000,"v":31.6},{"r":1,"m":"Rational","o":3,"n":1500,"v":67.6},{"r":1,"m":"Rational","o":3,"n":2000,"v":148},{"r":1,"m":"Rational","o":3,"n":2500,"v":234},{"r":1,"m":"Rational","o":3,"n":3000,"v":380},
      {"r":1,"m":"Rational","o":4,"n":1,"v":0.708},{"r":1,"m":"Rational","o":4,"n":50,"v":0.891},{"r":1,"m":"Rational","o":4,"n":100,"v":1.12},{"r":1,"m":"Rational","o":4,"n":250,"v":1.78},{"r":1,"m":"Rational","o":4,"n":500,"v":2.57},{"r":1,"m":"Rational","o":4,"n":1000,"v":5.75},{"r":1,"m":"Rational","o":4,"n":1500,"v":12.6},{"r":1,"m":"Rational","o":4,"n":2000,"v":28.8},{"r":1,"m":"Rational","o":4,"n":2500,"v":51.3},{"r":1,"m":"Rational","o":4,"n":3000,"v":85.1},
      {"r":1,"m":"Rational","o":5,"n":1,"v":0.0427},{"r":1,"m":"Rational","o":5,"n":50,"v":0.0794},{"r":1,"m":"Rational","o":5,"n":100,"v":0.112},{"r":1,"m":"Rational","o":5,"n":250,"v":0.174},{"r":1,"m":"Rational","o":5,"n":500,"v":0.275},{"r":1,"m":"Rational","o":5,"n":1000,"v":0.55},{"r":1,"m":"Rational","o":5,"n":1500,"v":1.41},{"r":1,"m":"Rational","o":5,"n":2000,"v":2.82},{"r":1,"m":"Rational","o":5,"n":2500,"v":5.75},{"r":1,"m":"Rational","o":5,"n":3000,"v":9.12},
      {"r":1,"m":"Rational","o":6,"n":1,"v":0.00324},{"r":1,"m":"Rational","o":6,"n":50,"v":0.00631},{"r":1,"m":"Rational","o":6,"n":100,"v":0.00891},{"r":1,"m":"Rational","o":6,"n":250,"v":0.012},{"r":1,"m":"Rational","o":6,"n":500,"v":0.0166},{"r":1,"m":"Rational","o":6,"n":1000,"v":0.0372},{"r":1,"m":"Rational","o":6,"n":1500,"v":0.0851},{"r":1,"m":"Rational","o":6,"n":2000,"v":0.135},{"r":1,"m":"Rational","o":6,"n":2500,"v":0.302},{"r":1,"m":"Rational","o":6,"n":3000,"v":0.55},

      {"r":2,"m":"NNGP","o":3,"n":1,"v":1e-3},{"r":2,"m":"NNGP","o":3,"n":5,"v":1.26e-3},{"r":2,"m":"NNGP","o":3,"n":10,"v":2e-3},{"r":2,"m":"NNGP","o":3,"n":20,"v":5.01e-3},{"r":2,"m":"NNGP","o":3,"n":30,"v":0.02},{"r":2,"m":"NNGP","o":3,"n":40,"v":0.0708},{"r":2,"m":"NNGP","o":3,"n":50,"v":0.158},{"r":2,"m":"NNGP","o":3,"n":75,"v":0.794},{"r":2,"m":"NNGP","o":3,"n":100,"v":2.24},{"r":2,"m":"NNGP","o":3,"n":150,"v":8.91},{"r":2,"m":"NNGP","o":3,"n":200,"v":17.8},{"r":2,"m":"NNGP","o":3,"n":300,"v":39.8},{"r":2,"m":"NNGP","o":3,"n":400,"v":79.4},{"r":2,"m":"NNGP","o":3,"n":500,"v":126},{"r":2,"m":"NNGP","o":3,"n":750,"v":316},{"r":2,"m":"NNGP","o":3,"n":1000,"v":603},{"r":2,"m":"NNGP","o":3,"n":1500,"v":1202},{"r":2,"m":"NNGP","o":3,"n":2000,"v":1905},{"r":2,"m":"NNGP","o":3,"n":2500,"v":2818},{"r":2,"m":"NNGP","o":3,"n":3000,"v":3890},
      {"r":2,"m":"NNGP","o":4,"n":1,"v":2e-5},{"r":2,"m":"NNGP","o":4,"n":5,"v":6.31e-5},{"r":2,"m":"NNGP","o":4,"n":10,"v":2.51e-4},{"r":2,"m":"NNGP","o":4,"n":20,"v":2e-3},{"r":2,"m":"NNGP","o":4,"n":30,"v":0.02},{"r":2,"m":"NNGP","o":4,"n":40,"v":0.0708},{"r":2,"m":"NNGP","o":4,"n":50,"v":0.158},{"r":2,"m":"NNGP","o":4,"n":75,"v":0.794},{"r":2,"m":"NNGP","o":4,"n":100,"v":2.24},{"r":2,"m":"NNGP","o":4,"n":150,"v":8.91},{"r":2,"m":"NNGP","o":4,"n":200,"v":17.8},{"r":2,"m":"NNGP","o":4,"n":300,"v":39.8},{"r":2,"m":"NNGP","o":4,"n":400,"v":79.4},{"r":2,"m":"NNGP","o":4,"n":500,"v":126},{"r":2,"m":"NNGP","o":4,"n":750,"v":316},{"r":2,"m":"NNGP","o":4,"n":1000,"v":603},{"r":2,"m":"NNGP","o":4,"n":1500,"v":1202},{"r":2,"m":"NNGP","o":4,"n":2000,"v":1905},{"r":2,"m":"NNGP","o":4,"n":2500,"v":2818},{"r":2,"m":"NNGP","o":4,"n":3000,"v":3890},
      {"r":2,"m":"NNGP","o":5,"n":1,"v":1.58e-4},{"r":2,"m":"NNGP","o":5,"n":5,"v":3.16e-4},{"r":2,"m":"NNGP","o":5,"n":10,"v":7.94e-4},{"r":2,"m":"NNGP","o":5,"n":20,"v":3.16e-3},{"r":2,"m":"NNGP","o":5,"n":30,"v":0.02},{"r":2,"m":"NNGP","o":5,"n":40,"v":0.0708},{"r":2,"m":"NNGP","o":5,"n":50,"v":0.158},{"r":2,"m":"NNGP","o":5,"n":75,"v":0.794},{"r":2,"m":"NNGP","o":5,"n":100,"v":2.24},{"r":2,"m":"NNGP","o":5,"n":150,"v":8.91},{"r":2,"m":"NNGP","o":5,"n":200,"v":17.8},{"r":2,"m":"NNGP","o":5,"n":300,"v":39.8},{"r":2,"m":"NNGP","o":5,"n":400,"v":79.4},{"r":2,"m":"NNGP","o":5,"n":500,"v":126},{"r":2,"m":"NNGP","o":5,"n":750,"v":316},{"r":2,"m":"NNGP","o":5,"n":1000,"v":603},{"r":2,"m":"NNGP","o":5,"n":1500,"v":1202},{"r":2,"m":"NNGP","o":5,"n":2000,"v":1905},{"r":2,"m":"NNGP","o":5,"n":2500,"v":2818},{"r":2,"m":"NNGP","o":5,"n":3000,"v":3890},
      {"r":2,"m":"NNGP","o":6,"n":1,"v":6.31e-5},{"r":2,"m":"NNGP","o":6,"n":5,"v":1.58e-4},{"r":2,"m":"NNGP","o":6,"n":10,"v":5.01e-4},{"r":2,"m":"NNGP","o":6,"n":20,"v":2.51e-3},{"r":2,"m":"NNGP","o":6,"n":30,"v":0.02},{"r":2,"m":"NNGP","o":6,"n":40,"v":0.0708},{"r":2,"m":"NNGP","o":6,"n":50,"v":0.158},{"r":2,"m":"NNGP","o":6,"n":75,"v":0.794},{"r":2,"m":"NNGP","o":6,"n":100,"v":2.24},{"r":2,"m":"NNGP","o":6,"n":150,"v":8.91},{"r":2,"m":"NNGP","o":6,"n":200,"v":17.8},{"r":2,"m":"NNGP","o":6,"n":300,"v":39.8},{"r":2,"m":"NNGP","o":6,"n":400,"v":79.4},{"r":2,"m":"NNGP","o":6,"n":500,"v":126},{"r":2,"m":"NNGP","o":6,"n":750,"v":316},{"r":2,"m":"NNGP","o":6,"n":1000,"v":603},{"r":2,"m":"NNGP","o":6,"n":1500,"v":1202},{"r":2,"m":"NNGP","o":6,"n":2000,"v":1905},{"r":2,"m":"NNGP","o":6,"n":2500,"v":2818},{"r":2,"m":"NNGP","o":6,"n":3000,"v":3890},
      {"r":2,"m":"FEM","o":3,"n":1,"v":22.9},{"r":2,"m":"FEM","o":3,"n":50,"v":28.2},{"r":2,"m":"FEM","o":3,"n":100,"v":35.5},{"r":2,"m":"FEM","o":3,"n":250,"v":74.1},{"r":2,"m":"FEM","o":3,"n":500,"v":148},{"r":2,"m":"FEM","o":3,"n":1000,"v":380},{"r":2,"m":"FEM","o":3,"n":1500,"v":759},{"r":2,"m":"FEM","o":3,"n":2000,"v":1202},{"r":2,"m":"FEM","o":3,"n":2500,"v":1549},{"r":2,"m":"FEM","o":3,"n":3000,"v":2138},
      {"r":2,"m":"FEM","o":4,"n":1,"v":14.5},{"r":2,"m":"FEM","o":4,"n":50,"v":17.8},{"r":2,"m":"FEM","o":4,"n":100,"v":22.4},{"r":2,"m":"FEM","o":4,"n":250,"v":50.1},{"r":2,"m":"FEM","o":4,"n":500,"v":117},{"r":2,"m":"FEM","o":4,"n":1000,"v":302},{"r":2,"m":"FEM","o":4,"n":1500,"v":562},{"r":2,"m":"FEM","o":4,"n":2000,"v":871},{"r":2,"m":"FEM","o":4,"n":2500,"v":1202},{"r":2,"m":"FEM","o":4,"n":3000,"v":1549},
      {"r":2,"m":"FEM","o":5,"n":1,"v":9.12},{"r":2,"m":"FEM","o":5,"n":50,"v":11.2},{"r":2,"m":"FEM","o":5,"n":100,"v":14.1},{"r":2,"m":"FEM","o":5,"n":250,"v":35.5},{"r":2,"m":"FEM","o":5,"n":500,"v":81.3},{"r":2,"m":"FEM","o":5,"n":1000,"v":204},{"r":2,"m":"FEM","o":5,"n":1500,"v":380},{"r":2,"m":"FEM","o":5,"n":2000,"v":603},{"r":2,"m":"FEM","o":5,"n":2500,"v":851},{"r":2,"m":"FEM","o":5,"n":3000,"v":1096},
      {"r":2,"m":"FEM","o":6,"n":1,"v":4.07},{"r":2,"m":"FEM","o":6,"n":50,"v":5.01},{"r":2,"m":"FEM","o":6,"n":100,"v":6.31},{"r":2,"m":"FEM","o":6,"n":250,"v":17.8},{"r":2,"m":"FEM","o":6,"n":500,"v":39.8},{"r":2,"m":"FEM","o":6,"n":1000,"v":126},{"r":2,"m":"FEM","o":6,"n":1500,"v":269},{"r":2,"m":"FEM","o":6,"n":2000,"v":479},{"r":2,"m":"FEM","o":6,"n":2500,"v":661},{"r":2,"m":"FEM","o":6,"n":3000,"v":832},
      {"r":2,"m":"Rational","o":3,"n":1,"v":7.08},{"r":2,"m":"Rational","o":3,"n":50,"v":8.91},{"r":2,"m":"Rational","o":3,"n":100,"v":11.2},{"r":2,"m":"Rational","o":3,"n":250,"v":28.8},{"r":2,"m":"Rational","o":3,"n":500,"v":58.9},{"r":2,"m":"Rational","o":3,"n":1000,"v":148},{"r":2,"m":"Rational","o":3,"n":1500,"v":302},{"r":2,"m":"Rational","o":3,"n":2000,"v":479},{"r":2,"m":"Rational","o":3,"n":2500,"v":661},{"r":2,"m":"Rational","o":3,"n":3000,"v":871},
      {"r":2,"m":"Rational","o":4,"n":1,"v":1.62},{"r":2,"m":"Rational","o":4,"n":50,"v":2},{"r":2,"m":"Rational","o":4,"n":100,"v":2.51},{"r":2,"m":"Rational","o":4,"n":250,"v":5.75},{"r":2,"m":"Rational","o":4,"n":500,"v":11.5},{"r":2,"m":"Rational","o":4,"n":1000,"v":28.8},{"r":2,"m":"Rational","o":4,"n":1500,"v":74.1},{"r":2,"m":"Rational","o":4,"n":2000,"v":148},{"r":2,"m":"Rational","o":4,"n":2500,"v":234},{"r":2,"m":"Rational","o":4,"n":3000,"v":347},
      {"r":2,"m":"Rational","o":5,"n":1,"v":0.302},{"r":2,"m":"Rational","o":5,"n":50,"v":0.398},{"r":2,"m":"Rational","o":5,"n":100,"v":0.501},{"r":2,"m":"Rational","o":5,"n":250,"v":1.41},{"r":2,"m":"Rational","o":5,"n":500,"v":2.82},{"r":2,"m":"Rational","o":5,"n":1000,"v":7.08},{"r":2,"m":"Rational","o":5,"n":1500,"v":18.2},{"r":2,"m":"Rational","o":5,"n":2000,"v":31.6},{"r":2,"m":"Rational","o":5,"n":2500,"v":58.9},{"r":2,"m":"Rational","o":5,"n":3000,"v":81.3},
      {"r":2,"m":"Rational","o":6,"n":1,"v":0.0427},{"r":2,"m":"Rational","o":6,"n":50,"v":0.0631},{"r":2,"m":"Rational","o":6,"n":100,"v":0.0794},{"r":2,"m":"Rational","o":6,"n":250,"v":0.135},{"r":2,"m":"Rational","o":6,"n":500,"v":0.24},{"r":2,"m":"Rational","o":6,"n":1000,"v":0.708},{"r":2,"m":"Rational","o":6,"n":1500,"v":1.78},{"r":2,"m":"Rational","o":6,"n":2000,"v":3.55},{"r":2,"m":"Rational","o":6,"n":2500,"v":6.17},{"r":2,"m":"Rational","o":6,"n":3000,"v":10.5}
    ]
  },
  "vconcat": [
    {
      "data": {"name": "prob"},
      "title": {"text": "Probability Error", "orient": "right", "anchor": "middle", "offset": 3, "dx": 10, "fontSize": 14.7, "fontWeight": "normal", "color": "#1a1a1a"},
      "facet": {
        "column": {"field": "r", "type": "ordinal", "header": {"title": null, "labelExpr": "'ρ = ' + datum.value", "labelFontSize": 14.7, "labelColor": "#1a1a1a", "labelPadding": 6}}
      },
      "spacing": 13,
      "spec": {
        "width": 339,
        "height": 237,
        "mark": {"type": "line", "strokeWidth": 1.6, "clip": true},
        "encoding": {
          "x": {
            "field": "n", "type": "quantitative",
            "scale": {"domain": [-150, 3150], "nice": false, "zero": false},
            "axis": {
              "title": null, "labels": false, "ticks": false,
              "values": [0, 500, 1000, 1500, 2000, 2500, 3000],
              "gridColor": {"condition": {"test": "datum.value % 1000 == 0", "value": "#c6c6c6"}, "value": "#e0e0e0"},
              "gridWidth": {"condition": {"test": "datum.value % 1000 == 0", "value": 1.2}, "value": 0.7}
            }
          },
          "y": {
            "field": "v", "type": "quantitative",
            "scale": {"domain": [-0.0074, 0.1356], "nice": false, "zero": false},
            "axis": {
              "title": null,
              "values": [0, 0.025, 0.05, 0.075, 0.1, 0.125],
              "format": ".2f",
              "labelExpr": "abs(datum.value * 20 - round(datum.value * 20)) < 0.001 ? datum.label : ''",
              "tickColor": {"condition": {"test": "abs(datum.value * 20 - round(datum.value * 20)) < 0.001", "value": "#333333"}, "value": "transparent"},
              "gridColor": {"condition": {"test": "abs(datum.value * 20 - round(datum.value * 20)) < 0.001", "value": "#c6c6c6"}, "value": "#e0e0e0"},
              "gridWidth": {"condition": {"test": "abs(datum.value * 20 - round(datum.value * 20)) < 0.001", "value": 1.2}, "value": 0.7}
            }
          },
          "color": {
            "field": "m", "type": "nominal", "title": "Method",
            "scale": {"domain": ["FEM", "NNGP", "Rational"], "range": ["#3fbf3f", "#ff0000", "#000000"]},
            "legend": {"orient": "none", "legendX": 210, "legendY": 551, "direction": "horizontal", "columnPadding": 6}
          },
          "strokeDash": {
            "field": "o", "type": "nominal", "title": "Order",
            "scale": {"domain": [3, 5, 4, 6], "range": [[1, 0], [1.6, 4], [5, 4], [1.6, 4, 6, 4]]},
            "legend": {"orient": "none", "legendX": 582, "legendY": 539, "direction": "horizontal", "columns": 2, "labelExpr": "'Order ' + datum.label", "symbolStrokeColor": "black", "rowPadding": 3, "columnPadding": 5}
          }
        }
      }
    },
    {
      "title": {"text": "N (number of prediction locations)", "orient": "bottom", "anchor": "middle", "offset": 1, "dx": 13, "fontSize": 17.5, "fontWeight": "normal", "color": "black"},
      "vconcat": [
        {
          "data": {"name": "kl"},
          "title": {"text": "KL Divergence", "orient": "right", "anchor": "middle", "offset": 3, "dx": -9, "fontSize": 14.7, "fontWeight": "normal", "color": "#1a1a1a"},
          "facet": {
            "column": {"field": "r", "type": "ordinal", "header": {"title": null, "labels": false}}
          },
          "spacing": 13,
          "spec": {
            "width": 339,
            "height": 237,
            "mark": {"type": "line", "strokeWidth": 1.6, "clip": true},
            "encoding": {
              "x": {
                "field": "n", "type": "quantitative",
                "scale": {"domain": [-150, 3150], "nice": false, "zero": false},
                "axis": {
                  "title": null,
                  "values": [0, 500, 1000, 1500, 2000, 2500, 3000],
                  "format": "d",
                  "labelExpr": "datum.value % 1000 == 0 ? datum.label : ''",
                  "tickColor": {"condition": {"test": "datum.value % 1000 == 0", "value": "#333333"}, "value": "transparent"},
                  "gridColor": {"condition": {"test": "datum.value % 1000 == 0", "value": "#c6c6c6"}, "value": "#e0e0e0"},
                  "gridWidth": {"condition": {"test": "datum.value % 1000 == 0", "value": 1.2}, "value": 0.7}
                }
              },
              "y": {
                "field": "v", "type": "quantitative",
                "scale": {"type": "log", "domain": [6.92e-11, 17378], "nice": false},
                "axis": {
                  "title": null,
                  "values": [1e-9, 1e-7, 1e-5, 1e-3, 0.1, 10, 1000],
                  "labelExpr": "datum.value > 5 && datum.value < 20 ? '1e+01' : datum.value > 5e-4 && datum.value < 2e-3 ? '1e-03' : datum.value > 5e-8 && datum.value < 2e-7 ? '1e-07' : ''",
                  "tickColor": {"condition": {"test": "(datum.value > 5 && datum.value < 20) || (datum.value > 5e-4 && datum.value < 2e-3) || (datum.value > 5e-8 && datum.value < 2e-7)", "value": "#333333"}, "value": "transparent"},
                  "gridColor": {"condition": {"test": "(datum.value > 5 && datum.value < 20) || (datum.value > 5e-4 && datum.value < 2e-3) || (datum.value > 5e-8 && datum.value < 2e-7)", "value": "#c6c6c6"}, "value": "#e0e0e0"},
                  "gridWidth": {"condition": {"test": "(datum.value > 5 && datum.value < 20) || (datum.value > 5e-4 && datum.value < 2e-3) || (datum.value > 5e-8 && datum.value < 2e-7)", "value": 1.2}, "value": 0.7}
                }
              },
              "color": {
                "field": "m", "type": "nominal", "title": "Method",
                "scale": {"domain": ["FEM", "NNGP", "Rational"], "range": ["#3fbf3f", "#ff0000", "#000000"]},
                "legend": {"orient": "none", "legendX": 210, "legendY": 551, "direction": "horizontal", "columnPadding": 6}
              },
              "strokeDash": {
                "field": "o", "type": "nominal", "title": "Order",
                "scale": {"domain": [3, 5, 4, 6], "range": [[1, 0], [1.6, 4], [5, 4], [1.6, 4, 6, 4]]},
                "legend": {"orient": "none", "legendX": 582, "legendY": 539, "direction": "horizontal", "columns": 2, "labelExpr": "'Order ' + datum.label", "symbolStrokeColor": "black", "rowPadding": 3, "columnPadding": 5}
              }
            }
          }
        }
      ]
    }
  ],
  "config": {
    "font": "Liberation Sans",
    "view": {"stroke": "#1a1a1a", "strokeWidth": 1.1},
    "axis": {
      "domain": false,
      "labelFontSize": 14.7,
      "labelColor": "#4d4d4d",
      "tickColor": "#333333",
      "tickSize": 4,
      "tickWidth": 1,
      "labelPadding": 1,
      "gridColor": "#c6c6c6"
    },
    "header": {"labelFontSize": 14.7, "labelColor": "#1a1a1a"},
    "legend": {
      "titleOrient": "left",
      "titleFontSize": 17.5,
      "titleFontWeight": "normal",
      "titleColor": "black",
      "titlePadding": 17,
      "labelFontSize": 14.7,
      "labelColor": "black",
      "labelOffset": 18,
      "symbolType": "M-2,0H2",
      "symbolSize": 342,
      "symbolStrokeWidth": 1.8,
      "columnPadding": 6
    },
    "title": {"fontWeight": "normal", "color": "black"}
  }
}
